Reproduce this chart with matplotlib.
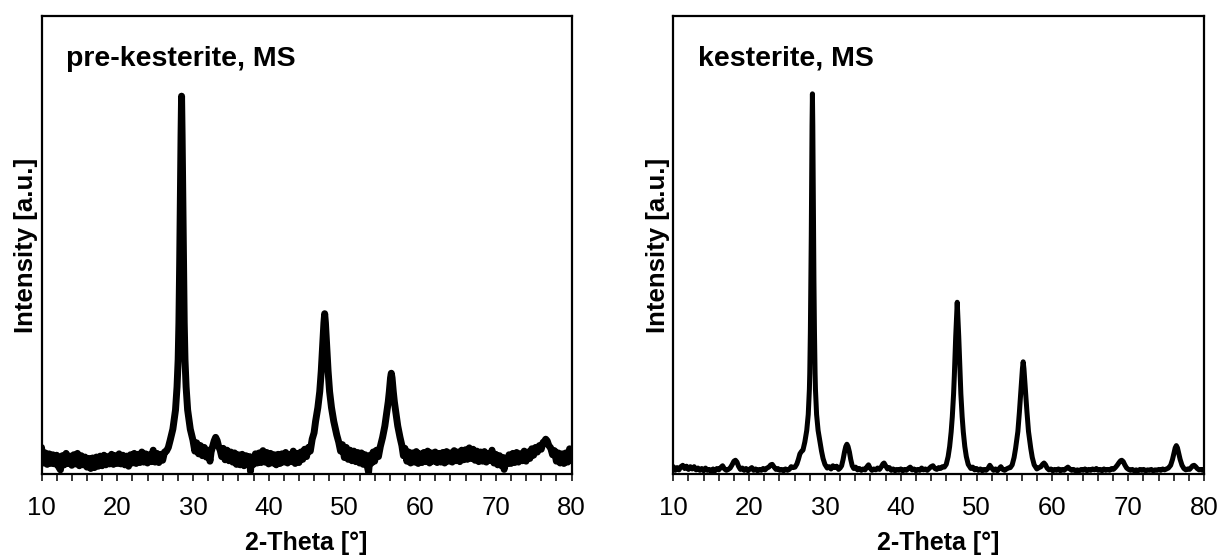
import matplotlib
matplotlib.use("Agg")
import matplotlib.pyplot as plt
from matplotlib.ticker import MultipleLocator

plt.rcParams['font.family'] = ['Liberation Sans', 'DejaVu Sans']

# ---------------- data ----------------
panel_titles = ["pre-kesterite, MS", "kesterite, MS"]
x_label = "2-Theta [°]"
y_label = "Intensity [a.u.]"
x_ticks = [10, 20, 30, 40, 50, 60, 70, 80]

pre_two_theta = [
    10.00, 10.25, 10.50, 10.75, 11.00, 11.25, 11.50, 11.75, 12.00, 12.25,
    12.50, 12.75, 13.00, 13.25, 13.50, 13.75, 14.00, 14.25, 14.50, 14.75,
    15.00, 15.25, 15.50, 15.75, 16.00, 16.25, 16.50, 16.75, 17.00, 17.25,
    17.50, 17.75, 18.00, 18.25, 18.50, 18.75, 19.00, 19.25, 19.50, 19.75,
    20.00, 20.25, 20.50, 20.75, 21.00, 21.25, 21.50, 21.75, 22.00, 22.25,
    22.50, 22.75, 23.00, 23.25, 23.50, 23.75, 24.00, 24.25, 24.50, 24.75,
    25.00, 25.25, 25.50, 25.75, 26.00, 26.25,
    26.50, 26.75, 27.00, 27.35, 27.70, 27.90, 28.05, 28.15, 28.25, 28.35,
    28.43, 28.50, 28.57, 28.65, 28.75, 28.85, 28.95, 29.10, 29.30, 29.65,
    30.00, 30.25, 30.50, 30.75, 31.00, 31.25, 31.50, 31.75, 32.00, 32.25,
    32.40, 32.60, 32.80, 33.00, 33.20, 33.40, 33.60, 33.80, 34.00, 34.25,
    34.50, 34.75, 35.00, 35.25, 35.50, 35.75, 36.00, 36.25, 36.50, 36.75,
    37.00, 37.25, 37.50, 37.60, 37.75, 38.00, 38.25, 38.50, 38.75, 39.00,
    39.25, 39.50, 39.75, 40.00, 40.25, 40.50, 40.75, 41.00, 41.25, 41.50,
    41.75, 42.00, 42.25, 42.50, 42.75, 43.00, 43.25, 43.50, 43.75, 44.00,
    44.25, 44.50, 44.75, 45.00, 45.25, 45.50, 45.75, 46.00, 46.20, 46.50,
    46.75, 46.95, 47.10, 47.20, 47.30, 47.40, 47.50, 47.60, 47.70, 47.85,
    48.05, 48.30, 48.60, 49.00, 49.25, 49.50, 49.75, 50.00, 50.25, 50.50,
    50.75, 51.00, 51.25, 51.50, 51.75, 52.00, 52.25, 52.50, 52.75, 53.00,
    53.20, 53.40, 53.60, 53.80, 54.00, 54.25, 54.50, 54.75, 55.05, 55.35,
    55.60, 55.80, 55.94, 56.10, 56.20, 56.30, 56.46, 56.60, 56.80, 57.05,
    57.35, 57.60, 57.80, 58.00, 58.25, 58.50, 58.75, 59.00, 59.25, 59.50,
    59.75, 60.00, 60.25, 60.50, 60.75, 61.00, 61.25, 61.50, 61.75, 62.00,
    62.25, 62.50, 62.75, 63.00, 63.25, 63.50, 63.75, 64.00, 64.25, 64.50,
    64.75, 65.00, 65.25, 65.50, 65.75, 66.00, 66.25, 66.50, 66.75, 67.00,
    67.25, 67.50, 67.75, 68.00, 68.25, 68.50, 68.75, 69.00, 69.25, 69.50,
    69.75, 70.00, 70.25, 70.50, 70.75, 71.00, 71.10, 71.25, 71.50, 71.75,
    72.00, 72.25, 72.50, 72.75, 73.00, 73.25, 73.50, 73.75, 74.00, 74.25,
    74.50, 74.75, 75.00, 75.25, 75.50, 75.75, 76.00, 76.25, 76.45, 76.60,
    76.80, 77.00, 77.25, 77.50, 77.75, 78.00, 78.25, 78.50, 78.75, 79.00,
    79.25, 79.50, 79.75, 80.00,
]
pre_intensity = [
    5.8, 2.4, 4.6, 2.1, 4.4, 2.3, 4.2, 2.2, 4.1, 1.6,
    0.9, 4.0, 2.0, 4.5, 2.3, 3.9, 1.9, 4.2, 2.2, 4.5,
    1.8, 4.0, 2.0, 3.7, 1.5, 3.4, 1.2, 3.5, 1.4, 3.7,
    1.7, 3.9, 1.8, 4.1, 2.0, 3.8, 2.2, 4.3, 2.1, 4.0,
    2.3, 4.4, 2.2, 4.1, 2.0, 3.9, 1.7, 4.2, 2.4, 4.5,
    2.3, 4.3, 2.5, 4.8, 2.6, 4.4, 2.4, 4.2, 2.7, 5.2,
    2.6, 4.5, 2.5, 4.3, 3.0, 4.8,
    5.0, 5.8, 7.4, 9.8, 14.0, 19.0, 25.0, 33.0, 46.0, 62.0,
    74.0, 82.5, 74.0, 62.0, 46.0, 33.0, 25.0, 19.0, 14.0, 9.8,
    7.4, 5.0, 6.8, 4.4, 6.2, 4.0, 5.8, 3.7, 5.2, 2.8,
    4.8, 6.0, 7.2, 8.0, 7.3, 6.0, 5.2, 3.8, 5.6, 3.1,
    5.2, 2.9, 4.8, 2.6, 4.6, 2.1, 4.2, 2.0, 4.3, 1.8,
    4.0, 2.0, 3.8, 0.6, 3.6, 2.1, 4.4, 2.4, 4.6, 2.5,
    5.1, 2.6, 4.7, 2.2, 4.5, 2.4, 4.2, 2.0, 4.3, 2.3,
    4.4, 2.6, 4.7, 2.4, 4.2, 2.7, 5.0, 2.3, 4.5, 2.5,
    4.8, 3.2, 5.4, 3.8, 5.8, 5.0, 7.6, 9.0, 11.5, 14.5,
    18.0, 22.5, 27.0, 30.0, 33.0, 35.0, 33.0, 30.0, 27.0, 22.5,
    18.0, 14.5, 11.5, 8.5, 7.0, 5.0, 6.4, 3.6, 5.8, 3.2,
    5.2, 2.9, 5.0, 2.7, 4.7, 2.4, 4.6, 2.1, 4.2, 1.9,
    0.4, 4.1, 2.4, 4.8, 2.8, 5.2, 3.8, 6.0, 8.0, 10.5,
    13.5, 15.8, 18.0, 21.0, 22.0, 21.0, 18.0, 15.8, 13.5, 10.5,
    8.0, 6.2, 4.0, 5.6, 2.8, 4.8, 2.4, 4.6, 2.6, 4.9,
    2.3, 4.4, 2.5, 4.7, 2.7, 5.0, 2.4, 4.6, 2.8, 4.8,
    2.5, 4.5, 2.6, 4.7, 2.4, 4.9, 2.8, 4.6, 2.6, 5.1,
    2.9, 4.8, 2.7, 5.2, 3.1, 5.3, 3.2, 5.7, 3.4, 5.4,
    3.0, 5.0, 2.7, 4.8, 2.8, 4.9, 2.6, 4.5, 3.0, 5.2,
    2.4, 4.3, 2.0, 4.0, 1.8, 3.6, 1.0, 3.4, 2.2, 4.2,
    2.3, 4.5, 2.5, 4.7, 2.6, 4.4, 2.9, 5.0, 2.8, 4.8,
    3.4, 5.5, 4.1, 5.8, 4.8, 6.2, 5.4, 6.9, 7.2, 7.6,
    7.2, 6.2, 5.7, 4.2, 5.1, 2.8, 4.6, 2.4, 4.4, 2.3,
    4.6, 2.6, 5.5, 3.0,
]

kes_two_theta = [
    10.00, 10.25, 10.50, 10.75, 11.00, 11.25, 11.50, 11.75, 12.00, 12.25,
    12.50, 12.75, 13.00, 13.25, 13.50, 13.75, 14.00, 14.25, 14.50, 14.75,
    15.00, 15.25, 15.50, 15.75, 16.00, 16.25, 16.50, 16.75, 17.00, 17.25,
    17.50, 17.75, 18.00, 18.20, 18.40, 18.60, 18.85, 19.10, 19.35, 19.60,
    19.85, 20.10, 20.35, 20.60, 20.85, 21.10, 21.35, 21.60, 21.85, 22.10,
    22.35, 22.60, 22.85, 23.05, 23.30, 23.55, 23.80, 24.05, 24.30, 24.55,
    24.80, 25.05, 25.30, 25.55, 25.80, 26.05, 26.30, 26.50, 26.70, 26.90,
    27.10, 27.35, 27.60, 27.80, 27.95, 28.00, 28.08, 28.15, 28.20, 28.25,
    28.30, 28.35, 28.40, 28.45, 28.50, 28.55, 28.62, 28.70, 28.75, 28.90,
    29.10, 29.35, 29.55, 29.75, 30.00, 30.30, 30.55, 30.80, 31.05, 31.30,
    31.55, 31.80, 32.00, 32.20, 32.40, 32.58, 32.75, 32.90, 33.05, 33.23,
    33.40, 33.60, 33.80, 34.05, 34.30, 34.55, 34.80, 35.05, 35.30, 35.55,
    35.75, 35.95, 36.20, 36.45, 36.70, 36.95, 37.20, 37.45, 37.65, 37.80,
    38.00, 38.25, 38.50, 38.75, 39.00, 39.25, 39.50, 39.75, 40.00, 40.25,
    40.50, 40.75, 41.00, 41.25, 41.50, 41.75, 42.00, 42.25, 42.50, 42.75,
    43.00, 43.25, 43.50, 43.75, 44.00, 44.25, 44.50, 44.75, 45.00, 45.25,
    45.50, 45.75, 46.00, 46.25, 46.45, 46.65, 46.80, 46.97, 47.07, 47.17,
    47.25, 47.35, 47.45, 47.55, 47.65, 47.73, 47.83, 47.93, 48.10, 48.25,
    48.45, 48.65, 48.90, 49.25, 49.50, 49.75, 50.00, 50.25, 50.50, 50.75,
    51.00, 51.25, 51.50, 51.75, 52.00, 52.25, 52.50, 52.75, 53.00, 53.20,
    53.45, 53.70, 53.95, 54.20, 54.45, 54.70, 54.95, 55.15, 55.45, 55.65,
    55.80, 55.95, 56.05, 56.15, 56.25, 56.35, 56.50, 56.65, 56.85, 57.15,
    57.35, 57.60, 57.95, 58.25, 58.50, 58.70, 58.90, 59.10, 59.30, 59.55,
    59.80, 60.05, 60.30, 60.55, 60.80, 61.05, 61.30, 61.55, 61.80, 62.05,
    62.30, 62.55, 62.80, 63.05, 63.30, 63.55, 63.80, 64.05, 64.30, 64.55,
    64.80, 65.05, 65.30, 65.55, 65.80, 66.05, 66.30, 66.55, 66.80, 67.05,
    67.30, 67.55, 67.80, 68.05, 68.30, 68.55, 68.80, 69.00, 69.15, 69.35,
    69.55, 69.80, 70.05, 70.30, 70.55, 70.80, 71.05, 71.30, 71.55, 71.80,
    72.05, 72.30, 72.55, 72.80, 73.05, 73.30, 73.55, 73.80, 74.05, 74.30,
    74.55, 74.80, 75.05, 75.30, 75.60, 75.85, 76.05, 76.20, 76.35, 76.50,
    76.65, 76.85, 77.10, 77.35, 77.60, 77.85, 78.10, 78.30, 78.50, 78.70,
    78.90, 79.10, 79.35, 79.60, 79.80, 80.00,
]
kes_intensity = [
    1.6, 0.8, 1.4, 0.9, 1.6, 1.9, 1.2, 1.7, 1.0, 1.6,
    1.1, 1.6, 0.9, 1.3, 0.8, 1.2, 0.7, 1.3, 0.8, 1.0,
    0.6, 1.1, 0.7, 1.2, 0.9, 1.4, 1.8, 1.1, 0.8, 1.0,
    1.3, 2.0, 2.8, 3.0, 2.6, 1.7, 1.0, 1.3, 0.8, 1.2,
    0.7, 1.1, 1.4, 0.8, 1.1, 0.7, 1.0, 0.8, 1.2, 0.9,
    1.3, 1.5, 2.0, 2.1, 1.5, 1.0, 1.2, 0.8, 1.0, 0.7,
    1.1, 0.8, 1.0, 1.6, 1.4, 1.5, 2.2, 3.2, 4.4, 4.9,
    5.2, 7.0, 9.5, 13.0, 18.5, 22.0, 31.0, 42.0, 52.0, 64.0,
    76.0, 83.0, 76.0, 64.0, 52.0, 42.0, 31.0, 22.0, 18.5, 13.0,
    9.5, 7.0, 5.0, 3.4, 2.1, 1.3, 1.6, 1.1, 1.8, 1.4,
    1.7, 1.0, 1.3, 1.8, 3.2, 4.8, 6.0, 6.5, 6.0, 4.8,
    3.2, 1.8, 1.2, 1.5, 0.9, 1.2, 0.8, 1.1, 0.9, 1.6,
    2.0, 1.3, 0.8, 1.1, 0.9, 1.3, 1.0, 1.6, 2.2, 2.4,
    1.8, 1.1, 1.4, 0.8, 1.1, 0.7, 1.0, 0.8, 1.1, 0.7,
    1.0, 0.8, 1.2, 1.5, 0.9, 1.1, 0.7, 1.0, 0.8, 1.3,
    0.9, 1.1, 0.8, 1.2, 1.6, 1.8, 1.2, 1.0, 1.4, 1.2,
    1.6, 1.5, 2.1, 3.8, 6.0, 9.2, 12.5, 17.5, 21.5, 26.5,
    30.0, 34.0, 37.5, 34.0, 30.0, 26.5, 21.5, 17.5, 12.5, 9.2,
    6.0, 3.8, 2.1, 1.2, 1.5, 0.9, 1.2, 0.8, 1.1, 0.7,
    1.0, 0.8, 1.2, 1.9, 1.3, 0.8, 1.1, 0.7, 1.2, 1.6,
    1.0, 0.8, 1.1, 1.3, 1.4, 2.0, 3.6, 5.6, 9.3, 13.5,
    17.0, 20.5, 23.0, 24.5, 23.0, 20.5, 17.0, 13.5, 9.3, 5.6,
    3.6, 2.0, 1.1, 1.4, 1.6, 2.1, 2.4, 2.0, 1.3, 0.9,
    1.1, 0.7, 1.0, 0.8, 1.1, 0.7, 1.0, 0.8, 1.2, 1.5,
    1.1, 0.8, 1.0, 0.7, 0.9, 0.7, 1.0, 0.8, 1.1, 0.7,
    1.0, 0.8, 1.1, 0.9, 1.2, 0.8, 1.0, 0.7, 1.1, 0.8,
    1.0, 0.8, 1.2, 1.0, 1.4, 1.9, 2.5, 2.9, 3.0, 2.7,
    2.0, 1.3, 1.0, 0.8, 1.0, 0.7, 0.9, 0.7, 1.0, 0.8,
    1.0, 0.7, 0.9, 0.8, 1.0, 0.7, 0.9, 0.8, 1.0, 0.8,
    1.1, 0.9, 1.1, 1.3, 1.9, 3.2, 4.6, 5.7, 6.2, 5.7,
    4.6, 3.2, 1.9, 1.2, 0.9, 1.1, 1.0, 1.4, 1.8, 1.9,
    1.6, 1.2, 0.9, 1.0, 0.8, 1.0,
]

# ---------------- figure ----------------
W, H = 1217, 559
fig = plt.figure(figsize=(W / 100, H / 100), dpi=100)

ax_left = fig.add_axes([41.5 / W, (H - 474) / H, 530 / W, 458 / H])
ax_right = fig.add_axes([673.3 / W, (H - 474) / H, 530.7 / W, 458 / H])

series = [
    (ax_left, pre_two_theta, pre_intensity, 5.0),
    (ax_right, kes_two_theta, kes_intensity, 3.6),
]

for (ax, xs, ys, lw), title in zip(series, panel_titles):
    ax.plot(xs, ys, color='black', lw=lw, solid_joinstyle='round',
            solid_capstyle='round')
    ax.set_xlim(10, 80)
    ax.set_ylim(0, 100)
    ax.set_xticks(x_ticks)
    ax.xaxis.set_minor_locator(MultipleLocator(2))
    ax.set_yticks([])
    ax.tick_params(axis='x', which='both', direction='out', length=5,
                   width=1.1, labelsize=18.5, pad=10.5)
    for sp in ax.spines.values():
        sp.set_linewidth(1.6)
    ax.set_xlabel(x_label, fontsize=18, fontweight='bold')
    ax.xaxis.set_label_coords(0.5, -0.124)
    ax.text(-0.029, 0.5, y_label, transform=ax.transAxes, rotation=90,
            ha='center', va='center', fontsize=18.5, fontweight='bold')
    ax.text(0.046, 0.891, title, transform=ax.transAxes, ha='left',
            va='baseline', fontsize=20.5, fontweight='bold')

fig.savefig('out.png', dpi=100)
